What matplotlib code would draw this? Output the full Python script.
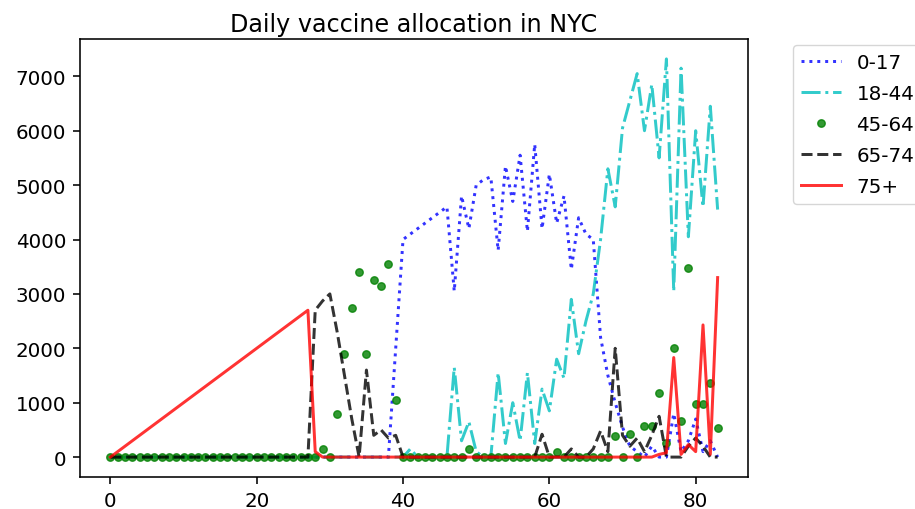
import numpy as np
import matplotlib
matplotlib.use("Agg")
import matplotlib.pyplot as plt

nan = np.nan
days = np.arange(84)

age_0_17 = [0]*38 + [0, 2000, 4000, 4100, 4200, 4300, 4400, 4500, 4600, 3050,
                     4800, 4200, 5000, 5100, 5150, 3800, 5350, 4700, 5550, 4150,
                     5750, 4200, 5200, 4300, 4800, 3450, 4400, 4100, 4000, 2200,
                     1500, 1000, 550, 200, 100, 0, 200, 0, 0, 800,
                     100, 300, 700, 100, 300, 0]

age_18_44 = [0]*41 + [150, 0, 0, 0, 0, 0, 1650, 300, 650, 100,
                      0, 0, 1550, 250, 1000, 300, 1550, 250, 1250, 850,
                      1800, 1450, 2900, 1900, 2500, 3000, 4000, 5300, 4600, 6050,
                      6550, 7050, 6000, 6850, 5500, 7320, 3050, 7150, 4050, 6000,
                      4600, 6450, 4550]

age_45_64 = [0]*29 + [140, 0, 800, 1900, 2750, 3400, 1900, 3250, 3150, 3550,
                      1050, 0, 0, 0, 0, 0, 0, 0, 0, 0,
                      140, 0, 0, 0, 0, 0, 0, 0, 0, 0,
                      0, 0, 100, 0, 0, 0, 0, 0, 0, 0,
                      380, 0, 420, 0, 570, 570, 1180, 260, 2000, 670,
                      3470, 970, 970, 1370, 530]

age_65_74 = [0]*28 + [2700, 2870, 3000, 2300, 1500, 700, 0, 1600, 400, 500,
                      350, 400, 0, 0, 0, 0, 0, 0, 0, 0,
                      0, 0, 0, 0, 0, 0, 0, 0, 0, 0,
                      0, 420, 0, 0, 0, 150, 0, 0, 150, 480,
                      100, 2000, 400, 200, 350, 100, 400, 750, 0, 0,
                      0, 200, 350, 200, 0, 0]

age_75_plus = [0] + [nan]*26 + [2700, 100] + [0]*46 + [50, 80, 1830, 50, 230, 100, 2430, 50, 3300]

labels = ["0-17", "18-44", "45-64", "65-74", "75+"]
title = "Daily vaccine allocation in NYC"

S = 1.43
plt.rcParams.update({
    "font.family": "DejaVu Sans",
    "font.size": 10 * S,
    "lines.linewidth": 1.5 * S,
    "lines.markersize": 7.5 * S,
    "axes.linewidth": 0.8 * S,
    "xtick.major.width": 0.8 * S,
    "ytick.major.width": 0.8 * S,
    "xtick.major.size": 3.5 * S,
    "ytick.major.size": 3.5 * S,
    "xtick.major.pad": 3.5 * S,
    "ytick.major.pad": 3.5 * S,
})

fig = plt.figure(figsize=(9.15, 5.10), dpi=100)
ax = fig.add_axes([80/915, 32/510, 668/915, 438/510])

a = 0.8
ax.plot(days, age_0_17, "b:", alpha=a, label=labels[0])
ax.plot(days, age_18_44, "c-.", alpha=a, label=labels[1])
ax.plot(days, age_45_64, "g.", alpha=a, label=labels[2])
ax.plot(days, age_65_74, "k--", alpha=a, label=labels[3])
r = np.array(age_75_plus, dtype=float)
m = ~np.isnan(r)
ax.plot(days[m], r[m], "r-", alpha=a, label=labels[4])

ax.set_title(title, fontsize=12 * S)
ax.legend(loc="upper left", bbox_to_anchor=(793/915, 1 - 46/510),
          bbox_transform=fig.transFigure, borderaxespad=0, labelspacing=0.6)

fig.savefig("out.png", dpi=100)
